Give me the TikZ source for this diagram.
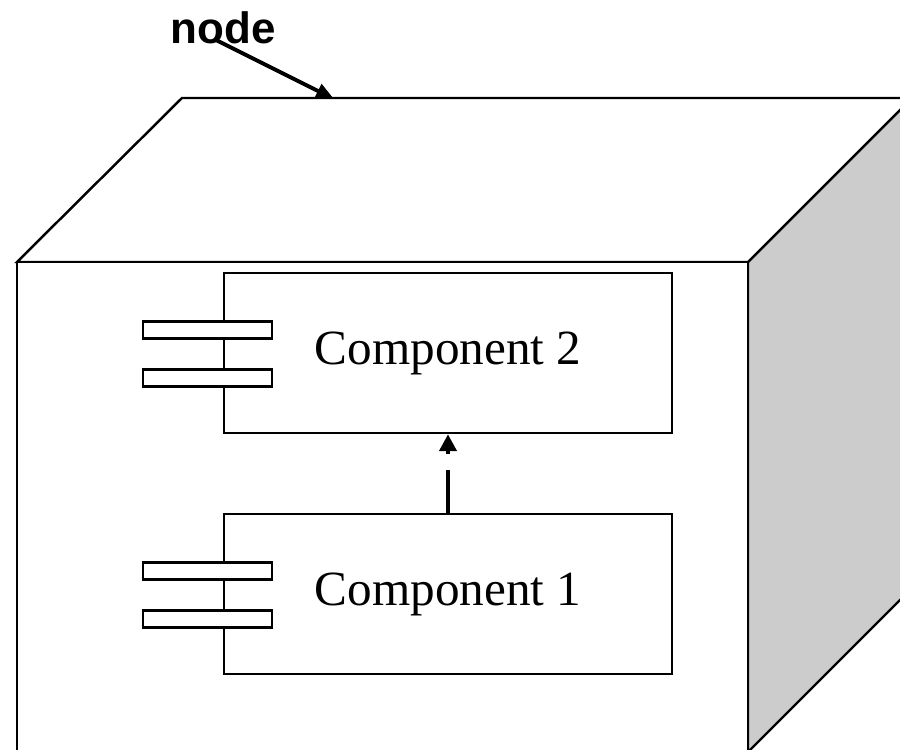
\documentclass[tikz,border=0pt]{standalone}
\usepackage{fontspec}
\setmainfont{Liberation Serif}
\newfontfamily\labelfont{Liberation Sans}
\usetikzlibrary{arrows.meta}

\tikzset{
  edge/.style={line width=1.4pt, line join=miter},
  compbox/.style={draw, line width=1.4pt, fill=white, minimum width=8.96cm, minimum height=3.2cm,
    inner sep=0pt, font=\fontsize{28}{30}\selectfont},
  port/.style={draw, line width=1.4pt, fill=white, minimum width=2.58cm, minimum height=0.34cm, inner sep=0pt},
}

\begin{document}
\begin{tikzpicture}[x=0.02cm, y=-0.02cm]
			\clip (0,0) rectangle (900,750);
			% Specify the positions of the vertices:
			\coordinate (F1) at (17, 262);
			\coordinate (F2) at (748, 262);
			\coordinate (F3) at (748, 752);
			\coordinate (F4) at (17, 752);
			\coordinate (B1) at (182, 98);
			\coordinate (B2) at (912, 98);
			\coordinate (B3) at (912, 588);
			% Draw right face:
			\draw[edge, fill=gray!40] (F2) -- (B2) -- (B3) -- (F3) -- cycle;
			% Draw top face:
			\draw[edge, fill=white] (F1) -- (B1) -- (B2) -- (F2) -- cycle;
			% Draw front face:
			\draw[edge, fill=white] (F1) -- (F2) -- (F3) -- (F4) -- cycle;
			% Specify the components:
			\node[compbox] (comp2) at (448, 353) {Component 2};
			\node[compbox] (comp1) at (448, 594) {Component 1};
			% Draw the ports on the left edges:
			\node[port] (p2a) at ([xshift=-0.31cm, yshift=0.46cm]comp2.west) {};
			\node[port] (p2b) at ([xshift=-0.31cm, yshift=-0.5cm]comp2.west) {};
			\node[port] (p1a) at ([xshift=-0.31cm, yshift=0.46cm]comp1.west) {};
			\node[port] (p1b) at ([xshift=-0.31cm, yshift=-0.5cm]comp1.west) {};
			% Draw the dependency:
			\draw[line width=2.6pt, dash pattern=on 0.86cm off 0.32cm,
				-{Triangle[length=0.34cm, width=0.34cm]}] (comp1.north) -- (comp2.south);
			% Specify the label and its arrow:
			\node[inner sep=0pt, font=\labelfont\bfseries\fontsize{25}{28}\selectfont] (lbl) at (223, 28) {node};
			\coordinate (T) at (334, 99);
			\draw[line width=2.2pt, -{Triangle[length=0.36cm, width=0.3cm]}] ([xshift=-0.12cm, yshift=0.08cm]lbl.south) -- (T);
		\end{tikzpicture}
\end{document}
